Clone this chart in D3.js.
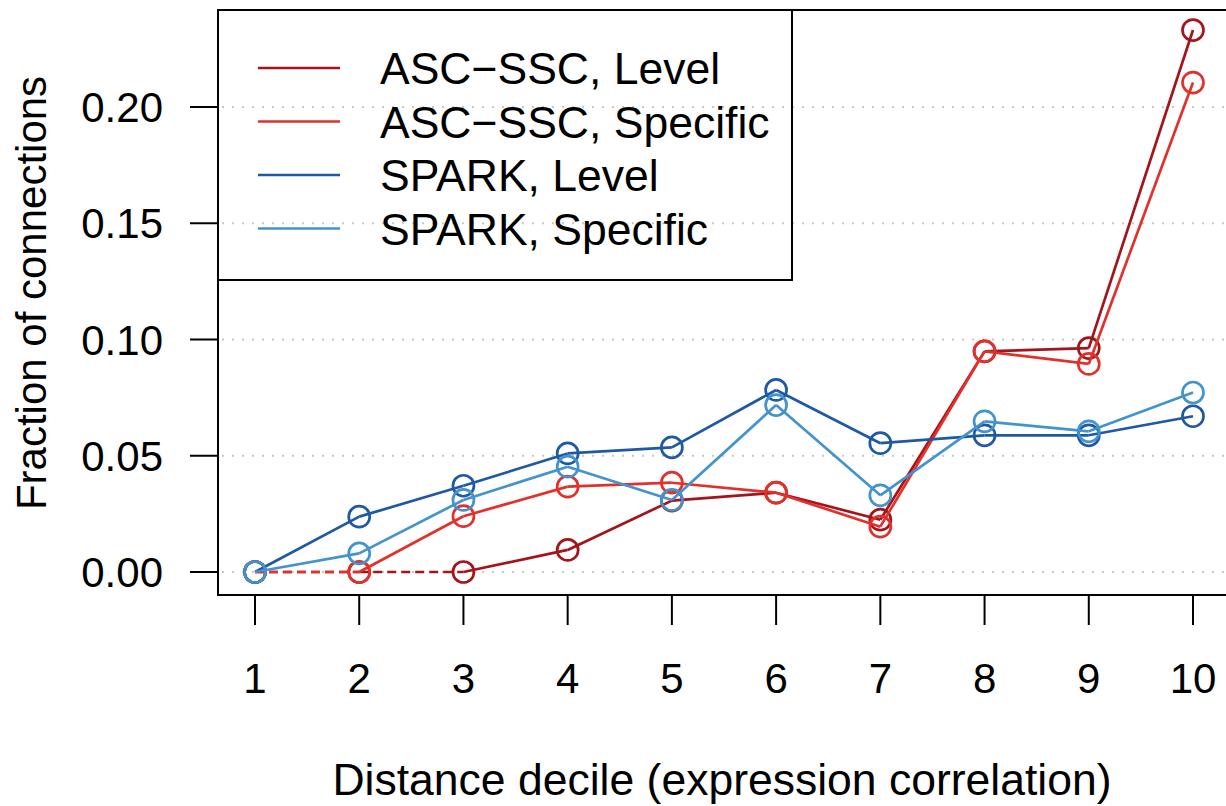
<!DOCTYPE html>
<html lang="en">
  <head>
    <meta charset="UTF-8" />
    <title>Fraction of connections by distance decile</title>
    <style>
      body {
        margin: 0;
        background: #fff;
        font-family: "Liberation Sans", Arial, sans-serif;
      }
      .grid line {
        stroke: #c8c8c8;
        stroke-width: 2;
        stroke-dasharray: 2 8;
      }
      .tick-label {
        font-size: 42px;
        fill: #000;
      }
      .axis-title {
        font-size: 42px;
        fill: #000;
      }
      .x-title {
        font-size: 44.5px;
      }
      .legend text {
        font-size: 44.5px;
        fill: #000;
      }
    </style>
  </head>
  <body>
    <div class="chart"></div>
    <script src="https://d3js.org/d3.v7.min.js"></script>
    <script>
      // data
      var deciles = [1, 2, 3, 4, 5, 6, 7, 8, 9, 10];
      var yTicks = [0, 0.05, 0.1, 0.15, 0.2];
      var seriesNames = [
        "ASC\u2212SSC, Level",
        "ASC\u2212SSC, Specific",
        "SPARK, Level",
        "SPARK, Specific"
      ];
      var ascLevel = [0, 0, 0, 0.0095, 0.0307, 0.0341, 0.0225, 0.0949, 0.0963, 0.2331];
      var ascSpecific = [0, 0, 0.024, 0.0367, 0.0384, 0.0341, 0.0195, 0.0949, 0.0895, 0.2105];
      var sparkLevel = [0, 0.0238, 0.0371, 0.051, 0.0536, 0.0783, 0.0554, 0.0588, 0.0588, 0.067];
      var sparkSpecific = [0, 0.008, 0.031, 0.0453, 0.031, 0.0718, 0.033, 0.0648, 0.0605, 0.0772];
      var seriesColors = ["#a3141b", "#e2312c", "#1f58a4", "#4393cd"];

      var series = [ascLevel, ascSpecific, sparkLevel, sparkSpecific].map((vals, i) => ({
        name: seriesNames[i],
        color: seriesColors[i],
        values: vals.map((v, j) => ({ x: deciles[j], y: v }))
      }));

      var W = 1226, H = 806;
      var box = { left: 218, top: 10, right: 1232, bottom: 595 };

      var svg = d3
        .select(".chart")
        .append("svg")
        .attr("width", W)
        .attr("height", H);

      var x = d3.scaleLinear().domain([1, 10]).range([255, 1193]);
      var y = d3.scaleLinear().domain([0, 0.2]).range([572, 107]);

      // dotted grid lines
      svg
        .append("g")
        .attr("class", "grid")
        .selectAll("line")
        .data(yTicks)
        .enter()
        .append("line")
        .attr("x1", box.left + 4)
        .attr("x2", box.right)
        .attr("y1", (d) => y(d))
        .attr("y2", (d) => y(d));

      // y axis ticks + labels
      var yAxis = svg.append("g");
      yAxis
        .selectAll("line")
        .data(yTicks)
        .enter()
        .append("line")
        .attr("x1", box.left - 28)
        .attr("x2", box.left)
        .attr("y1", (d) => y(d))
        .attr("y2", (d) => y(d))
        .attr("stroke", "#000")
        .attr("stroke-width", 2);
      yAxis
        .selectAll("text")
        .data(yTicks)
        .enter()
        .append("text")
        .attr("class", "tick-label")
        .attr("x", 163)
        .attr("y", (d) => y(d))
        .attr("dy", "0.36em")
        .attr("text-anchor", "end")
        .text((d) => d3.format(".2f")(d));

      // x axis ticks + labels
      var xAxis = svg.append("g");
      xAxis
        .selectAll("line")
        .data(deciles)
        .enter()
        .append("line")
        .attr("x1", (d) => x(d))
        .attr("x2", (d) => x(d))
        .attr("y1", box.bottom)
        .attr("y2", box.bottom + 30)
        .attr("stroke", "#000")
        .attr("stroke-width", 2);
      xAxis
        .selectAll("text")
        .data(deciles)
        .enter()
        .append("text")
        .attr("class", "tick-label")
        .attr("x", (d) => x(d))
        .attr("y", 693)
        .attr("text-anchor", "middle")
        .text((d) => d);

      // axis titles
      svg
        .append("text")
        .attr("class", "axis-title")
        .attr("transform", "translate(46,293) rotate(-90)")
        .attr("text-anchor", "middle")
        .text("Fraction of connections");
      svg
        .append("text")
        .attr("class", "axis-title x-title")
        .attr("x", 722)
        .attr("y", 795)
        .attr("text-anchor", "middle")
        .text("Distance decile (expression correlation)");

      // lines: segments between two zero points are dashed
      var plot = svg.append("g");
      series.forEach((s) => {
        var segs = d3.pairs(s.values);
        plot
          .append("g")
          .selectAll("line")
          .data(segs)
          .enter()
          .append("line")
          .attr("x1", (d) => x(d[0].x))
          .attr("y1", (d) => y(d[0].y))
          .attr("x2", (d) => x(d[1].x))
          .attr("y2", (d) => y(d[1].y))
          .attr("stroke", s.color)
          .attr("stroke-width", 2.7)
          .attr("stroke-dasharray", (d) => (d[0].y === 0 && d[1].y === 0 ? "9 5" : null));
        plot
          .append("g")
          .selectAll("circle")
          .data(s.values)
          .enter()
          .append("circle")
          .attr("cx", (d) => x(d.x))
          .attr("cy", (d) => y(d.y))
          .attr("r", 10.5)
          .attr("fill", "none")
          .attr("stroke", s.color)
          .attr("stroke-width", 2.7);
      });

      // plot box
      svg
        .append("rect")
        .attr("x", box.left)
        .attr("y", box.top)
        .attr("width", box.right - box.left)
        .attr("height", box.bottom - box.top)
        .attr("fill", "none")
        .attr("stroke", "#000")
        .attr("stroke-width", 2);

      // legend
      var legend = svg.append("g").attr("class", "legend");
      legend
        .append("rect")
        .attr("x", box.left)
        .attr("y", box.top)
        .attr("width", 792 - box.left)
        .attr("height", 280 - box.top)
        .attr("fill", "none")
        .attr("stroke", "#000")
        .attr("stroke-width", 2);
      var rows = legend
        .selectAll(".row")
        .data(series)
        .enter()
        .append("g")
        .attr("class", "row")
        .attr("transform", (d, i) => "translate(0," + (68 + i * 53.5) + ")");
      rows
        .append("line")
        .attr("x1", 258)
        .attr("x2", 340)
        .attr("y1", 0)
        .attr("y2", 0)
        .attr("stroke", (d) => d.color)
        .attr("stroke-width", 2.5);
      rows
        .append("text")
        .attr("x", 380)
        .attr("y", 0)
        .attr("dy", "0.36em")
        .text((d) => d.name);
    </script>
  </body>
</html>
